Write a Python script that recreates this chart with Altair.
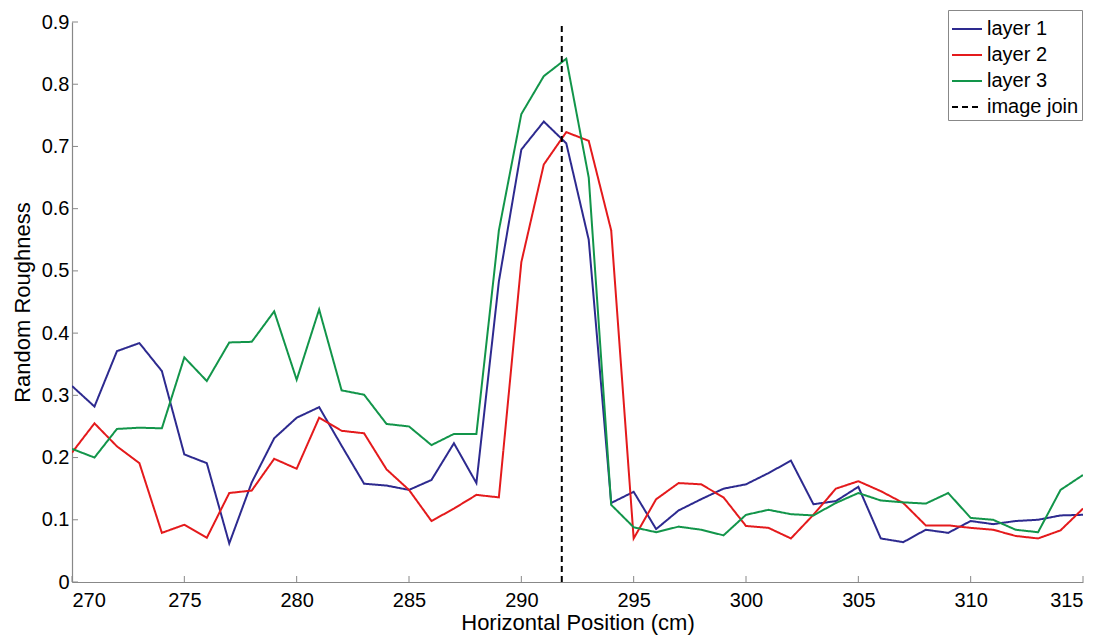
import altair as alt
import pandas as pd

x_pos = list(range(270, 316))

layer1 = [0.315, 0.282, 0.371, 0.384, 0.339, 0.205, 0.191, 0.062, 0.160, 0.231,
          0.264, 0.281, 0.219, 0.158, 0.155, 0.148, 0.164, 0.223, 0.159, 0.483,
          0.695, 0.740, 0.705, 0.550, 0.127, 0.145, 0.085, 0.115, 0.133, 0.150,
          0.157, 0.175, 0.195, 0.125, 0.130, 0.153, 0.070, 0.064, 0.084, 0.079,
          0.098, 0.093, 0.098, 0.100, 0.107, 0.108]
layer2 = [0.208, 0.255, 0.218, 0.191, 0.079, 0.092, 0.071, 0.143, 0.147, 0.198,
          0.182, 0.264, 0.243, 0.239, 0.181, 0.148, 0.098, 0.118, 0.140, 0.136,
          0.514, 0.671, 0.723, 0.709, 0.565, 0.070, 0.133, 0.159, 0.157, 0.136,
          0.090, 0.087, 0.070, 0.108, 0.150, 0.162, 0.146, 0.127, 0.091, 0.091,
          0.087, 0.084, 0.074, 0.070, 0.083, 0.118]
layer3 = [0.214, 0.200, 0.246, 0.248, 0.247, 0.361, 0.323, 0.385, 0.386, 0.435,
          0.325, 0.438, 0.308, 0.301, 0.254, 0.250, 0.220, 0.238, 0.238, 0.565,
          0.752, 0.813, 0.841, 0.650, 0.124, 0.088, 0.080, 0.089, 0.084, 0.075,
          0.108, 0.116, 0.109, 0.107, 0.127, 0.143, 0.131, 0.128, 0.126, 0.143,
          0.103, 0.100, 0.084, 0.080, 0.148, 0.172]

join_x = [291.8, 291.8]
join_y = [0.0, 0.9]

series_names = ["layer 1", "layer 2", "layer 3", "image join"]
series_colors = ["#2d2a8f", "#e41a1c", "#12954a", "#000000"]

x_ticks = [270, 275, 280, 285, 290, 295, 300, 305, 310, 315]
y_ticks = [0.0, 0.1, 0.2, 0.3, 0.4, 0.5, 0.6, 0.7, 0.8, 0.9]

rows = []
for name, vals in zip(series_names[:3], [layer1, layer2, layer3]):
    for i, (xv, yv) in enumerate(zip(x_pos, vals)):
        rows.append({"x": xv, "y": yv, "series": name, "order": i})
for i, (xv, yv) in enumerate(zip(join_x, join_y)):
    rows.append({"x": xv, "y": yv, "series": "image join", "order": i})
df = pd.DataFrame(rows)

W, H = 1011, 560
FONT = "Liberation Sans"

xscale = alt.Scale(domain=[270, 315], nice=False, zero=False)
yscale = alt.Scale(domain=[0, 0.9], nice=False, zero=True)

legend_opts = dict(title=None, orient="none", legendX=876, legendY=-12,
                   symbolType="stroke", symbolSize=900,
                   symbolStrokeWidth=2, labelFontSize=20,
                   labelFont=FONT, labelColor="black",
                   strokeColor="#888888", fillColor="white",
                   padding=3, rowPadding=-3, labelOffset=4)

lines = alt.Chart(df).mark_line(strokeWidth=2, clip=True).encode(
    x=alt.X("x:Q", scale=xscale,
            axis=alt.Axis(values=x_ticks, title="Horizontal Position (cm)", ticks=False,
                          grid=False, labelPadding=8, titlePadding=2, format="d")),
    y=alt.Y("y:Q", scale=yscale,
            axis=alt.Axis(values=y_ticks, title="Random Roughness", ticks=False,
                          grid=False, labelPadding=3, titlePadding=7,
                          labelExpr="datum.value == 0 ? '0' : format(datum.value, '.1f')")),
    color=alt.Color("series:N",
                    scale=alt.Scale(domain=series_names, range=series_colors),
                    legend=alt.Legend(**legend_opts)),
    strokeDash=alt.StrokeDash("series:N",
                              scale=alt.Scale(domain=series_names,
                                              range=[[1, 0], [1, 0], [1, 0], [6, 4]]),
                              legend=alt.Legend(**legend_opts)),
    order="order:Q",
)

ytick_df = pd.DataFrame({"v": y_ticks})
xtick_df = pd.DataFrame({"v": x_ticks})

yticks = alt.Chart(ytick_df).mark_rule(color="#888888", strokeWidth=1).encode(
    y=alt.Y("v:Q", scale=yscale),
    x=alt.value(0), x2=alt.value(6),
)
xticks = alt.Chart(xtick_df).mark_rule(color="#888888", strokeWidth=1).encode(
    x=alt.X("v:Q", scale=xscale),
    y=alt.value(H), y2=alt.value(H - 6),
)

chart = alt.layer(lines, yticks, xticks).properties(
    width=W, height=H,
    autosize=alt.AutoSizeParams(type="none"),
    padding={"left": 72, "top": 22, "right": 26, "bottom": 54},
    background="white",
).configure_view(stroke=None).configure_axis(
    domainColor="#888888", domainWidth=1.2,
    labelFont=FONT, labelFontSize=20, labelColor="black",
    titleFont=FONT, titleFontSize=22, titleColor="black", titleFontWeight="normal",
)

chart.save("out.html", embed_options={"renderer": "svg", "actions": False})
